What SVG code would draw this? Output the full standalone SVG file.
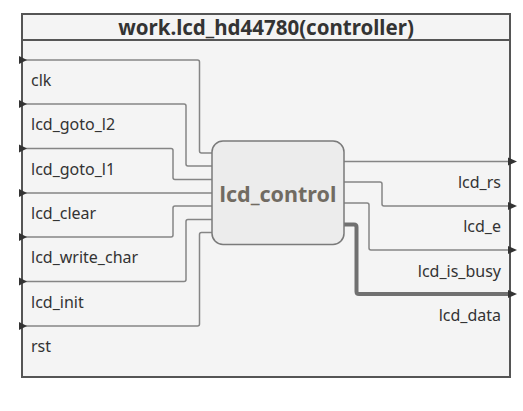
<svg xmlns="http://www.w3.org/2000/svg" width="523" height="411" viewBox="0 0 523 411">
<style>
.frame{fill:#f4f4f4;stroke:#555;stroke-width:2}
.sep{stroke:#555;stroke-width:2}
.title{font-family:"Noto Sans","DejaVu Sans",sans-serif;font-weight:bold;font-size:20.5px;fill:#333;text-anchor:middle}
.lbl{font-family:"Noto Sans","DejaVu Sans",sans-serif;font-size:16px;fill:#333}
.out{text-anchor:end}
.wire{fill:none;stroke:#858585;stroke-width:1.5;stroke-linejoin:round}
.bus{fill:none;stroke:#707070;stroke-width:4;stroke-linejoin:round}
.arr{fill:#333}
.blk{fill:#ececec;stroke:#7a7a7a;stroke-width:1.5}
.blkt{font-family:"Noto Sans","DejaVu Sans",sans-serif;font-weight:bold;font-size:21.5px;fill:#716b62;text-anchor:middle}
</style>
<g id="frame">
<rect class="frame" x="22" y="14" width="488" height="363"/>
<line class="sep" x1="22" y1="40" x2="510" y2="40"/>
<text class="title" x="266" y="35">work.lcd_hd44780(controller)</text>
</g>
<g id="connectors">
<path class="wire" d="M22 60H197.5Q199.5 60 199.5 62V151Q199.5 153 201.5 153H212"/>
<path class="wire" d="M22 104H184Q186 104 186 106V164Q186 166 188 166H212"/>
<path class="wire" d="M22 148.5H171Q173 148.5 173 150.5V177.5Q173 179.5 175 179.5H212"/>
<path class="wire" d="M22 193H212"/>
<path class="wire" d="M22 237H171Q173 237 173 235V208Q173 206 175 206H212"/>
<path class="wire" d="M22 281.5H184Q186 281.5 186 279.5V221.5Q186 219.5 188 219.5H212"/>
<path class="wire" d="M22 326H197.5Q199.5 326 199.5 324V234.5Q199.5 232.5 201.5 232.5H212"/>
<path class="wire" d="M344 161.5H510"/>
<path class="wire" d="M344 182H380Q382 182 382 184V204Q382 206 384 206H510"/>
<path class="wire" d="M344 203H367Q369 203 369 205V248Q369 250 371 250H510"/>
<path class="bus" d="M344 224.5H354Q356.5 224.5 356.5 227V291.5Q356.5 294 359 294H510"/>
<polygon class="arr" points="19,56 27,60 19,64"/>
<polygon class="arr" points="19,100 27,104 19,108"/>
<polygon class="arr" points="19,144.5 27,148.5 19,152.5"/>
<polygon class="arr" points="19,189 27,193 19,197"/>
<polygon class="arr" points="19,233 27,237 19,241"/>
<polygon class="arr" points="19,277.5 27,281.5 19,285.5"/>
<polygon class="arr" points="19,322 27,326 19,330"/>
<polygon class="arr" points="508,157.5 517,161.5 508,165.5"/>
<polygon class="arr" points="508,202 517,206 508,210"/>
<polygon class="arr" points="508,246 517,250 508,254"/>
<polygon class="arr" points="508,290 517,294 508,298"/>
</g>
<g id="port-labels">
<text class="lbl" x="31" y="86">clk</text>
<text class="lbl" x="31" y="130">lcd_goto_l2</text>
<text class="lbl" x="31" y="174.5">lcd_goto_l1</text>
<text class="lbl" x="31" y="219">lcd_clear</text>
<text class="lbl" x="31" y="263">lcd_write_char</text>
<text class="lbl" x="31" y="307.5">lcd_init</text>
<text class="lbl" x="31" y="352">rst</text>
<text class="lbl out" x="501" y="188">lcd_rs</text>
<text class="lbl out" x="501" y="232">lcd_e</text>
<text class="lbl out" x="501" y="276.5">lcd_is_busy</text>
<text class="lbl out" x="501" y="320.5">lcd_data</text>
</g>
<g id="lcd_control">
<rect class="blk" x="212" y="141" width="132" height="103.5" rx="11"/>
<text class="blkt" x="278" y="201.5">lcd_control</text>
</g>
</svg>
